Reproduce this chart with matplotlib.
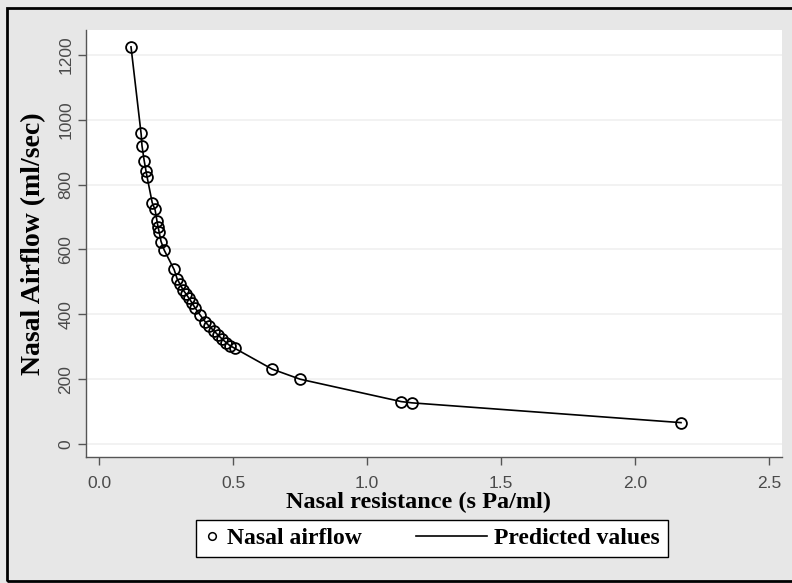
import matplotlib
matplotlib.use("Agg")
import matplotlib.pyplot as plt
from matplotlib.patches import Rectangle
from matplotlib.lines import Line2D
from matplotlib.legend_handler import HandlerBase

resistance = [0.119, 0.157, 0.160, 0.168, 0.175, 0.179, 0.198, 0.209, 0.216, 0.220,
              0.224, 0.231, 0.243, 0.280, 0.291, 0.302, 0.313, 0.325, 0.336, 0.347,
              0.358, 0.377, 0.396, 0.410, 0.429, 0.444, 0.459, 0.474, 0.489, 0.507,
              0.646, 0.750, 1.127, 1.168, 2.172]
airflow = [1225, 959, 919, 873, 842, 824, 743, 725, 688, 669,
           654, 623, 598, 540, 509, 494, 475, 463, 450, 435,
           419, 398, 376, 364, 349, 336, 324, 312, 302, 296,
           231, 200, 130, 126, 65]
predicted = [1225, 955, 920, 875, 842, 824, 745, 722, 688, 670,
             654, 625, 598, 538, 510, 493, 476, 462, 449, 435,
             420, 398, 377, 364, 349, 336, 324, 313, 303, 295,
             231, 200, 131, 127, 66]

xticks = [0.0, 0.5, 1.0, 1.5, 2.0, 2.5]
xticklabels = ["0.0", "0.5", "1.0", "1.5", "2.0", "2.5"]
yticks = [0, 200, 400, 600, 800, 1000, 1200]
yticklabels = ["0", "200", "400", "600", "800", "1000", "1200"]
legend_labels = ["Nasal airflow", "Predicted values"]


class LongLine(HandlerBase):
    """Legend line that extends to the left of its handle box."""
    def create_artists(self, legend, orig_handle, xdescent, ydescent,
                       width, height, fontsize, trans):
        y = height / 2 - ydescent
        ln = Line2D([-xdescent - 2.3 * fontsize, width - xdescent], [y, y],
                    color="black", linewidth=1.2)
        ln.set_transform(trans)
        return [ln]


W, H = 792, 583
fig = plt.figure(figsize=(W / 100, H / 100), dpi=100)
fig.patch.set_facecolor("#e7e7e7")
fig.add_artist(Rectangle((7 / W, 2 / H), 1.2, 1 - 10 / H, transform=fig.transFigure,
                         fill=False, edgecolor="black", linewidth=2))

ax = fig.add_axes([86 / W, 1 - 457 / H, (782 - 86) / W, (457 - 30) / H])
ax.set_facecolor("white")
ax.set_xlim(-0.049, 2.549)
ax.set_ylim(-40, 1277)

for s in ["top", "right"]:
    ax.spines[s].set_visible(False)
for s in ["left", "bottom"]:
    ax.spines[s].set_color("#555555")
    ax.spines[s].set_linewidth(1.0)

ax.set_yticks(yticks)
ax.set_yticklabels(yticklabels, rotation=90, va="center")
ax.set_xticks(xticks)
ax.set_xticklabels(xticklabels)
ax.tick_params(axis="both", colors="#555555", labelcolor="#4a4a4a", labelsize=12.5,
               length=6, width=1.0, direction="out")
for lab in ax.get_xticklabels() + ax.get_yticklabels():
    lab.set_fontfamily("Liberation Sans")
ax.tick_params(axis="y", pad=3)
ax.tick_params(axis="x", pad=8)

ax.grid(axis="y", color="#f0f0f0", linewidth=1.2)
ax.set_axisbelow(True)

ax.plot(resistance, predicted, color="black", linewidth=1.2, zorder=2)
ax.plot(resistance, airflow, linestyle="none", marker="o", markersize=7.8,
        markerfacecolor="none", markeredgecolor="black", markeredgewidth=1.3, zorder=3)

ax.set_xlabel("Nasal resistance (s Pa/ml)",
              fontdict=dict(family="Liberation Serif", weight="bold", size=17.5))
ax.xaxis.set_label_coords(0.478, -45 / 427 - 0.0)
ax.xaxis.label.set_va("center")
ax.set_ylabel("Nasal Airflow (ml/sec)",
              fontdict=dict(family="Liberation Serif", weight="bold", size=20))
ax.yaxis.set_label_coords(-(86 - 34) / 696, 0.5)
ax.yaxis.label.set_va("center")

marker_handle = Line2D([], [], linestyle="none", marker="o", markersize=5.5,
                       markerfacecolor="none", markeredgecolor="black", markeredgewidth=1.1)
line_handle = Line2D([], [], color="black", linewidth=1.2)
leg = fig.legend([marker_handle, line_handle], legend_labels, ncol=2,
                 loc="center", bbox_to_anchor=(432 / W, 1 - 538.5 / H),
                 frameon=True, fancybox=False, edgecolor="black", facecolor="white",
                 prop=dict(family="Liberation Serif", weight="bold", size=17),
                 handlelength=0.7, columnspacing=4.6, handletextpad=0.3,
                 borderpad=0.33, handler_map={line_handle: LongLine()})
leg.get_frame().set_linewidth(1.0)
leg.get_frame().set_alpha(1)

fig.savefig("out.png", dpi=100, facecolor=fig.get_facecolor())
